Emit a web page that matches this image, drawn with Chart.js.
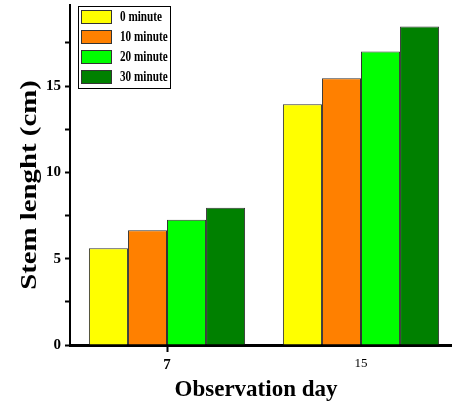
<!DOCTYPE html>
<html>
<head>
<meta charset="utf-8">
<script src="https://cdn.jsdelivr.net/npm/chart.js@4/dist/chart.umd.min.js"></script>
<style>
  html, body { margin: 0; padding: 0; background: #fff; overflow: hidden; }
  #wrap { width: 460px; height: 407px; }
</style>
</head>
<body>
<div id="wrap"><canvas id="stemChart"></canvas></div>
<script>
// categories (observation day)
const days = ["7", "15"];
// series labels
const seriesNames = ["0 minute", "10 minute", "20 minute", "30 minute"];
// stem length values (cm)
const min0 = [5.6, 13.95];
const min10 = [6.65, 15.45];
const min20 = [7.25, 17.0];
const min30 = [7.95, 18.45];
const seriesColors = ["#ffff00", "#ff8000", "#00ff00", "#008000"];
// y tick labels shown
const yTickLabels = [0, 5, 10, 15];
const xTitle = "Observation day";
const yTitle = "Stem lenght (cm)";

const serif = "'Liberation Serif', 'Times New Roman', serif";

// legend box + axis titles (the picture has them squeezed / stretched)
const extras = {
  id: "extras",
  afterDraw(chart) {
    const c = chart.ctx;
    const x0 = 78, y0 = 6;
    c.save();
    c.fillStyle = "#fff";
    c.fillRect(x0, y0, 92, 82);
    c.strokeStyle = "#000";
    c.lineWidth = 1;
    c.strokeRect(x0 + 0.5, y0 + 0.5, 92, 82);
    c.font = "bold 14px " + serif;
    c.textBaseline = "middle";
    chart.data.datasets.forEach((ds, i) => {
      const y = y0 + 4 + i * 20;
      c.fillStyle = ds.backgroundColor;
      c.fillRect(81, y, 30, 14);
      c.strokeStyle = "#333";
      c.strokeRect(81.5, y + 0.5, 30, 13);
      c.fillStyle = "#000";
      c.save();
      c.translate(120, y + 7);
      c.scale(0.8, 1);
      c.fillText(ds.label, 0, 0);
      c.restore();
    });

    // x title
    c.font = "bold 23px " + serif;
    c.textAlign = "center";
    c.textBaseline = "alphabetic";
    c.fillText(xTitle, 256, 396);

    // y title
    c.save();
    c.translate(36, 185);
    c.rotate(-Math.PI / 2);
    c.scale(1.2, 1);
    c.font = "bold 24px " + serif;
    c.fillText(yTitle, 0, 0);
    c.restore();
    c.restore();
  }
};

const ctx = document.getElementById("stemChart").getContext("2d");
const myChart = new Chart(ctx, {
  type: "bar",
  data: {
    labels: days,
    datasets: [min0, min10, min20, min30].map((vals, i) => ({
      label: seriesNames[i],
      data: vals,
      backgroundColor: seriesColors[i],
      borderColor: "#333",
      borderWidth: 1,
      categoryPercentage: 0.805,
      barPercentage: 1.0
    }))
  },
  options: {
    responsive: true,
    maintainAspectRatio: false,
    animation: false,
    layout: { padding: { top: 5, right: 2, left: 0, bottom: 0 } },
    plugins: {
      legend: { display: false },
      tooltip: { enabled: false }
    },
    scales: {
      x: {
        grid: {
          drawOnChartArea: false,
          offset: false,
          tickLength: 7,
          tickWidth: 2,
          color: (c) => (c.index === 0 ? "#000" : "rgba(0,0,0,0)")
        },
        border: { color: "#000", width: 3 },
        ticks: {
          color: "#000",
          padding: 4,
          font: (c) => (c.index === 0
            ? { family: serif, size: 15, weight: "bold" }
            : { family: serif, size: 13, weight: "normal" })
        },
        afterFit: (s) => { s.height = 62; s.paddingLeft = 0; s.paddingRight = 0; }
      },
      y: {
        min: 0,
        max: 19.7,
        grid: {
          drawOnChartArea: false,
          tickLength: 5,
          tickWidth: 2,
          color: "#000"
        },
        border: { color: "#000", width: 2 },
        afterBuildTicks: (s) => {
          s.ticks = [0, 2.5, 5, 7.5, 10, 12.5, 15, 17.5].map((v) => ({ value: v }));
        },
        ticks: {
          color: "#000",
          padding: 4,
          font: { family: serif, size: 15, weight: "bold" },
          callback: (v) => (yTickLabels.includes(v) ? v : "")
        },
        afterFit: (s) => { s.width = 70; s.paddingTop = 0; s.paddingBottom = 0; }
      }
    }
  },
  plugins: [extras]
});
</script>
</body>
</html>
